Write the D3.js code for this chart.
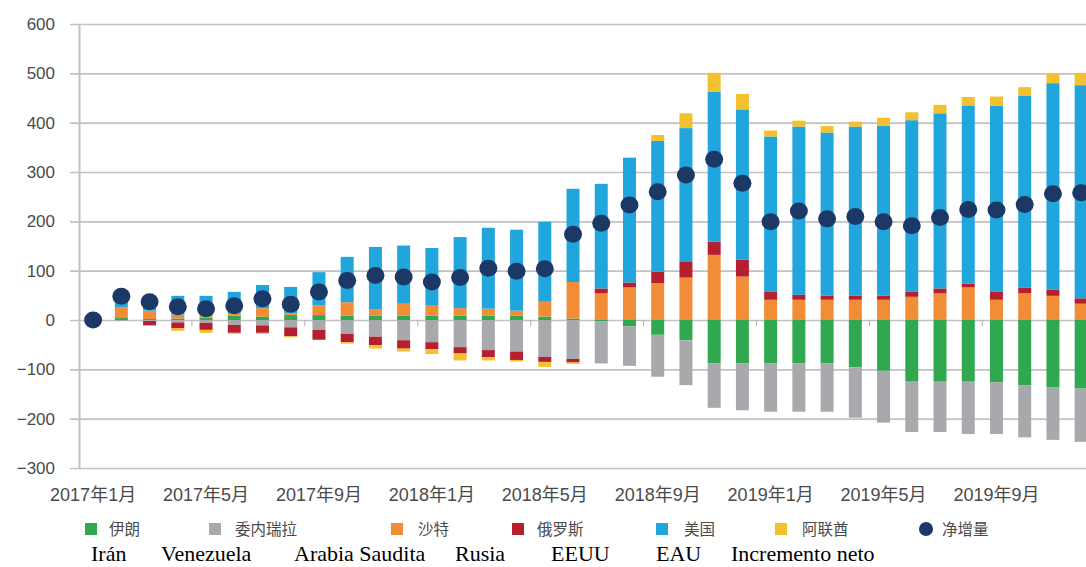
<!DOCTYPE html>
<html>
<head>
<meta charset="utf-8">
<script src="https://cdn.jsdelivr.net/npm/d3@7"></script>
<style>
  html, body { margin: 0; padding: 0; background: #ffffff; }
  svg { display: block; }
</style>
</head>
<body>
<svg id="chart" width="1086" height="567"></svg>
<script>
// ---------------- data ----------------
const months = [
  "2017年1月","2017年2月","2017年3月","2017年4月","2017年5月","2017年6月",
  "2017年7月","2017年8月","2017年9月","2017年10月","2017年11月","2017年12月",
  "2018年1月","2018年2月","2018年3月","2018年4月","2018年5月","2018年6月",
  "2018年7月","2018年8月","2018年9月","2018年10月","2018年11月","2018年12月",
  "2019年1月","2019年2月","2019年3月","2019年4月","2019年5月","2019年6月",
  "2019年7月","2019年8月","2019年9月","2019年10月","2019年11月","2019年12月"
];
const xTickLabels = ["2017年1月","2017年5月","2017年9月","2018年1月","2018年5月","2018年9月","2019年1月","2019年5月","2019年9月"];
const yTicks = [-300,-200,-100,0,100,200,300,400,500,600];

const iran      = [0,4,2,3,5,9,7,10,10,9,9,9,9,9,9,9,7,3,-3,-13,-30,-41,-88,-88,-88,-88,-88,-96,-103,-125,-125,-125,-126,-132,-137,-139];
const venezuela = [0,-2,-2,-5,-6,-10,-11,-15,-20,-28,-34,-41,-45,-55,-61,-64,-75,-79,-85,-80,-85,-91,-90,-95,-98,-98,-98,-102,-105,-102,-102,-106,-105,-106,-106,-108];
const saudi     = [0,22,17,8,6,5,17,3,20,27,13,24,20,15,14,10,30,74,54,66,75,86,132,88,41,41,41,41,41,47,54,66,41,54,49,33];
const russia    = [0,0,-9,-12,-14,-16,-15,-18,-20,-17,-17,-17,-14,-13,-14,-17,-10,-7,10,10,23,33,27,34,17,10,8,8,8,10,10,8,17,12,12,11];
const usa       = [0,22,27,38,38,43,47,54,67,92,126,118,117,144,164,164,162,189,212,253,265,270,304,305,314,341,331,343,345,348,355,361,376,388,419,432];
const uae       = [0,0,0,-5,-6,-2,-2,-2,0,-3,-7,-6,-10,-14,-7,-3,-10,-3,0,0,12,30,38,31,12,12,13,10,16,16,17,17,19,18,19,25];
const netIncrease = [0,48,37,27,23,29,43,32,57,80,90,87,77,86,105,99,104,174,196,233,260,294,326,277,199,221,205,210,199,191,208,224,223,234,256,258];

const seriesKeys   = ["iran","venezuela","saudi","russia","usa","uae"];
const seriesNames  = ["伊朗","委内瑞拉","沙特","俄罗斯","美国","阿联酋"];
const netName      = "净增量";
const spanishNames = ["Irán","Venezuela","Arabia Saudita","Rusia","EEUU","EAU","Incremento neto"];

// ---------------- styles / layout ----------------
const colors = {
  iran: "#2fa84f", venezuela: "#a8a9ad", saudi: "#f08d36",
  russia: "#b61f2e", usa: "#21a5dd", uae: "#f3c12e"
};
const netColor = "#1c3867";
const gridColor = "#c2c2c2";
const textColor = "#4a4a4a";

const W = 1086, H = 567;
const plotLeft = 79, plotTop = 24, plotBottom = 468;
const step = 28.23;

const rows = months.map((m, i) => ({
  month: m, iran: iran[i], venezuela: venezuela[i], saudi: saudi[i],
  russia: russia[i], usa: usa[i], uae: uae[i], net: netIncrease[i]
}));

const svg = d3.select("#chart");
svg.append("rect").attr("width", W).attr("height", H).attr("fill", "#fff");

const x = d3.scaleBand()
  .domain(months)
  .range([plotLeft, plotLeft + months.length * step])
  .paddingInner(0.54)
  .paddingOuter(0.27);

const y = d3.scaleLinear().domain([-300, 600]).range([plotBottom, plotTop]);

// y axis with gridlines
const yAxis = svg.append("g")
  .attr("transform", `translate(${plotLeft},0)`)
  .call(d3.axisLeft(y).tickValues(yTicks).tickSize(-(W - plotLeft)).tickSizeOuter(0).tickPadding(24));
yAxis.select(".domain").attr("stroke", gridColor).attr("stroke-width", 2);
yAxis.selectAll(".tick line").attr("stroke", gridColor).attr("stroke-width", 1.6).attr("x1", -9);
yAxis.selectAll(".tick text")
  .attr("fill", textColor)
  .style("font-family", "'Liberation Sans', Arial, sans-serif")
  .style("font-size", "17px");

// stacked bars (diverging)
const stack = d3.stack().keys(seriesKeys).offset(d3.stackOffsetDiverging);
const stacked = stack(rows);

svg.append("g").selectAll("g")
  .data(stacked)
  .join("g")
  .attr("fill", d => colors[d.key])
  .selectAll("rect")
  .data(d => d)
  .join("rect")
  .attr("x", d => x(d.data.month))
  .attr("width", x.bandwidth())
  .attr("y", d => y(Math.max(d[0], d[1])))
  .attr("height", d => Math.abs(y(d[0]) - y(d[1])));

// category ticks on zero line (every 4 months)
const gap = (x.step() - x.bandwidth()) / 2;
svg.append("g").selectAll("line")
  .data(months.filter((m, i) => i > 0 && i % 4 === 0))
  .join("line")
  .attr("x1", d => x(d) - gap).attr("x2", d => x(d) - gap)
  .attr("y1", y(0)).attr("y2", y(0) + 6)
  .attr("stroke", "#b0b0b0").attr("stroke-width", 1);

// net increase dots
svg.append("g").selectAll("ellipse")
  .data(rows)
  .join("ellipse")
  .attr("cx", d => x(d.month) + x.bandwidth() / 2)
  .attr("cy", d => y(d.net))
  .attr("rx", 9).attr("ry", 8.5)
  .attr("fill", netColor);

// x labels
const xAxis = svg.append("g")
  .attr("transform", `translate(0,${plotBottom})`)
  .call(d3.axisBottom(x).tickValues(xTickLabels).tickSize(0).tickPadding(20));
xAxis.select(".domain").remove();
xAxis.selectAll(".tick text")
  .attr("fill", textColor)
  .style("font-family", "'Liberation Sans', Arial, 'Noto Sans CJK SC', sans-serif")
  .style("font-size", "18px");

// legend (Chinese)
const legendX = [85, 209, 391, 512, 656, 775];
const legendTextX = [109, 235, 418, 537, 684, 802];
const legendY = 529;
const lg = svg.append("g").style("font-family", "'Noto Sans CJK SC', sans-serif").style("font-size", "15.5px");
seriesKeys.forEach((k, i) => {
  lg.append("rect").attr("x", legendX[i]).attr("y", legendY - 6).attr("width", 12).attr("height", 12).attr("fill", colors[k]);
  lg.append("text").attr("x", legendTextX[i]).attr("y", legendY).attr("dy", "0.36em").attr("fill", textColor).text(seriesNames[i]);
});
lg.append("circle").attr("cx", 926).attr("cy", legendY).attr("r", 7).attr("fill", netColor);
lg.append("text").attr("x", 942).attr("y", legendY).attr("dy", "0.36em").attr("fill", textColor).text(netName);

// Spanish labels
const spanishX = [91, 161, 294, 455, 551, 656, 731];
svg.append("g").selectAll("text")
  .data(spanishNames)
  .join("text")
  .attr("x", (d, i) => spanishX[i])
  .attr("y", 561)
  .attr("fill", "#000")
  .style("font-family", "'Liberation Serif', 'Times New Roman', serif")
  .style("font-size", "22px")
  .text(d => d);
</script>
</body>
</html>
